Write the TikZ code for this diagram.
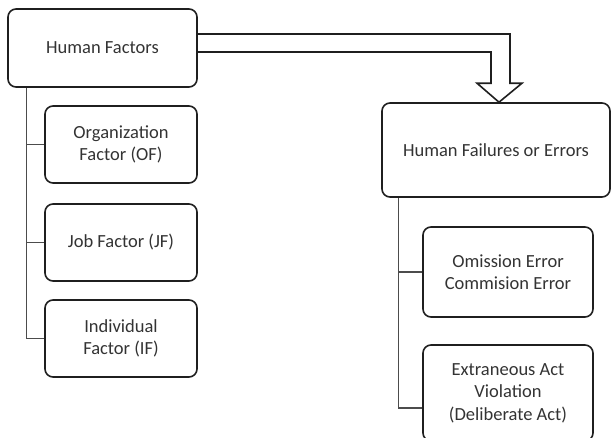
\documentclass[tikz,border=0pt]{standalone}
\usepackage{fontspec}
\setmainfont{Carlito}
\usepackage{tikz}
\usetikzlibrary{positioning}

\begin{document}
\begin{tikzpicture}[x = 1pt, y = -1pt,
  box/.style = {draw = black!88, line width = 1.6pt, rounded corners = 8pt, align = center, text = black!80, font = \fontsize{18.5}{22.5}\selectfont, inner sep = 0pt},
  link/.style = {draw = black!70, line width = 1.1pt},
  hollow/.style = {draw = black!88, line width = 1.6pt, line join = miter}]
\useasboundingbox (0,0) rectangle (611,437);
\begin{scope}
\clip (0,0) rectangle (611,437);
\node[box, minimum width = 189pt, minimum height = 78pt] (hf) at (102.5,48) {Human Factors};
\node[box, minimum width = 152pt, minimum height = 77pt] (of) at (121,144.5) {Organization\\Factor (OF)};
\node[box, minimum width = 152pt, minimum height = 77pt] (jf) at (121,242.5) {Job Factor (JF)};
\node[box, minimum width = 152pt, minimum height = 77pt] (if) at (121,338.5) {Individual\\Factor (IF)};
\node[box, minimum width = 228pt, minimum height = 94pt] (hfe) at (496,150) {Human Failures or Errors};
\node[box, minimum width = 170pt, minimum height = 90pt] (oe) at (508,272) {Omission Error\\Commision Error};
\node[box, minimum width = 170pt, minimum height = 96pt] (ea) at (508,393) {Extraneous Act\\Violation\\(Deliberate Act)};
\draw[link] ([xshift = 19pt]hf.south west) |- (of.west);
\draw[link] ([xshift = 19pt]hf.south west) |- (jf.west);
\draw[link] ([xshift = 19pt]hf.south west) |- (if.west);
\draw[link] ([xshift = 17pt]hfe.south west) |- (oe.west);
\draw[link] ([xshift = 17pt]hfe.south west) |- ([yshift = -15pt]ea.west);
\draw[hollow] ([yshift = 14pt]hf.east) -| ([xshift = 14pt, yshift = 19pt]hfe.north) -- ++(12pt,0) -- ([xshift = 3pt]hfe.north) -- ++(-22pt,19pt) -- ++(14pt,0) |- ([yshift = -4pt]hf.east);
\end{scope}
\end{tikzpicture}
\end{document}
